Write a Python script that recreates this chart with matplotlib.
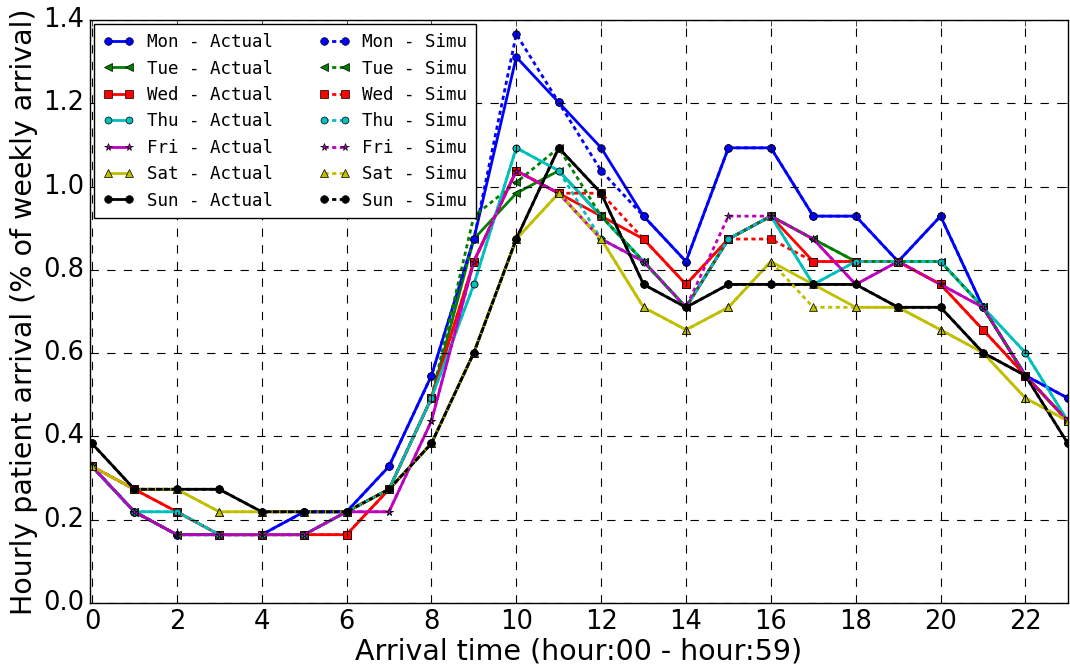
import matplotlib
matplotlib.use('Agg')
import matplotlib.pyplot as plt

hours = list(range(24))

# share of weekly arrivals (%)
mon_actual = [0.328, 0.219, 0.164, 0.164, 0.164, 0.219, 0.219, 0.328, 0.546, 0.874, 1.311, 1.202,
              1.093, 0.929, 0.820, 1.093, 1.093, 0.929, 0.929, 0.820, 0.929, 0.710, 0.546, 0.492]
mon_simu = [0.328, 0.219, 0.164, 0.164, 0.164, 0.219, 0.219, 0.328, 0.546, 0.874, 1.366, 1.202,
            1.038, 0.929, 0.820, 1.093, 1.093, 0.929, 0.929, 0.820, 0.929, 0.710, 0.546, 0.492]
tue_actual = [0.328, 0.219, 0.164, 0.164, 0.164, 0.164, 0.219, 0.273, 0.492, 0.874, 0.984, 1.038,
              0.929, 0.820, 0.710, 0.874, 0.929, 0.874, 0.820, 0.820, 0.820, 0.710, 0.546, 0.437]
tue_simu = [0.328, 0.219, 0.164, 0.164, 0.164, 0.164, 0.219, 0.273, 0.492, 0.929, 1.010, 1.093,
            0.929, 0.820, 0.710, 0.874, 0.929, 0.874, 0.820, 0.820, 0.820, 0.710, 0.546, 0.437]
wed_actual = [0.328, 0.273, 0.219, 0.164, 0.164, 0.164, 0.164, 0.273, 0.492, 0.820, 1.038, 0.984,
              0.929, 0.874, 0.765, 0.874, 0.929, 0.820, 0.820, 0.820, 0.765, 0.656, 0.546, 0.437]
wed_simu = [0.328, 0.273, 0.219, 0.164, 0.164, 0.164, 0.164, 0.273, 0.492, 0.820, 1.038, 0.984,
            0.984, 0.874, 0.765, 0.874, 0.874, 0.820, 0.820, 0.820, 0.765, 0.656, 0.546, 0.437]
thu_actual = [0.328, 0.219, 0.219, 0.164, 0.164, 0.164, 0.219, 0.273, 0.492, 0.765, 1.093, 1.038,
              0.929, 0.820, 0.710, 0.874, 0.929, 0.765, 0.820, 0.820, 0.820, 0.710, 0.601, 0.437]
thu_simu = [0.328, 0.219, 0.219, 0.164, 0.164, 0.164, 0.219, 0.273, 0.492, 0.765, 1.093, 1.038,
            0.874, 0.820, 0.710, 0.874, 0.929, 0.765, 0.820, 0.820, 0.820, 0.710, 0.601, 0.437]
fri_actual = [0.328, 0.219, 0.164, 0.164, 0.164, 0.164, 0.219, 0.219, 0.437, 0.820, 1.038, 0.984,
              0.874, 0.820, 0.710, 0.874, 0.929, 0.874, 0.765, 0.820, 0.765, 0.710, 0.546, 0.437]
fri_simu = [0.328, 0.219, 0.164, 0.164, 0.164, 0.164, 0.219, 0.219, 0.437, 0.820, 1.038, 0.984,
            0.874, 0.820, 0.710, 0.929, 0.929, 0.874, 0.765, 0.820, 0.765, 0.710, 0.546, 0.437]
sat_actual = [0.328, 0.273, 0.273, 0.219, 0.219, 0.219, 0.219, 0.273, 0.383, 0.601, 0.874, 0.984,
              0.874, 0.710, 0.656, 0.710, 0.820, 0.765, 0.710, 0.710, 0.656, 0.601, 0.492, 0.437]
sat_simu = [0.328, 0.273, 0.273, 0.219, 0.219, 0.219, 0.219, 0.273, 0.383, 0.601, 0.874, 0.984,
            0.874, 0.710, 0.656, 0.710, 0.820, 0.710, 0.710, 0.710, 0.656, 0.601, 0.492, 0.437]
sun_actual = [0.383, 0.273, 0.273, 0.273, 0.219, 0.219, 0.219, 0.273, 0.383, 0.601, 0.874, 1.093,
              0.984, 0.765, 0.710, 0.765, 0.765, 0.765, 0.765, 0.710, 0.710, 0.601, 0.546, 0.383]
sun_simu = [0.383, 0.273, 0.273, 0.273, 0.219, 0.219, 0.219, 0.273, 0.383, 0.601, 0.874, 1.093,
            0.984, 0.765, 0.710, 0.765, 0.765, 0.765, 0.765, 0.710, 0.710, 0.601, 0.546, 0.383]

days = ['Mon', 'Tue', 'Wed', 'Thu', 'Fri', 'Sat', 'Sun']
actual = [mon_actual, tue_actual, wed_actual, thu_actual, fri_actual, sat_actual, sun_actual]
simu = [mon_simu, tue_simu, wed_simu, thu_simu, fri_simu, sat_simu, sun_simu]
colors = ['b', 'g', 'r', 'c', 'm', 'y', 'k']
markers = ['o', '<', 's', 'o', '*', '^', 'o']
msizes = [5.5, 5.5, 5.5, 5, 5.5, 5.5, 5.5]

plt.style.use('classic')
plt.rcParams['lines.scale_dashes'] = False
fig = plt.figure(figsize=(10.7, 6.67), dpi=100, facecolor='white')
ax = fig.add_axes([0.084, 0.096, 0.914, 0.874])

for i, day in enumerate(days):
    ax.plot(hours, actual[i], color=colors[i], marker=markers[i], ms=msizes[i],
            lw=2, mec='k', label=day + ' - Actual')
for i, day in enumerate(days):
    ax.plot(hours, simu[i], color=colors[i], marker=markers[i], ms=msizes[i],
            lw=2, ls='--', dashes=(3, 2.5), mec='k', label=day + ' - Simu')

ax.set_xlim(-0.05, 23)
ax.set_ylim(0, 1.4)
ax.set_xticks(range(0, 24, 2))
ax.set_yticks([0.0, 0.2, 0.4, 0.6, 0.8, 1.0, 1.2, 1.4])
ax.set_yticklabels(['0.0', '0.2', '0.4', '0.6', '0.8', '1.0', '1.2', '1.4'])
ax.tick_params(labelsize=18.5)
ax.grid(True, ls='--', color='k', lw=0.8)
ax.set_xlabel('Arrival time (hour:00 - hour:59)', fontsize=20.5, labelpad=2)
ax.set_ylabel('Hourly patient arrival (% of weekly arrival)', fontsize=20.5, labelpad=4)

ax.legend(loc='upper left', ncol=2, numpoints=2, prop={'family': 'DejaVu Sans Mono', 'size': 12.6},
          fancybox=False, borderaxespad=0.25, borderpad=0.5, handlelength=1.8,
          handletextpad=0.7, columnspacing=2.6, labelspacing=0.48)

fig.savefig('out.png', dpi=100, facecolor='white')
